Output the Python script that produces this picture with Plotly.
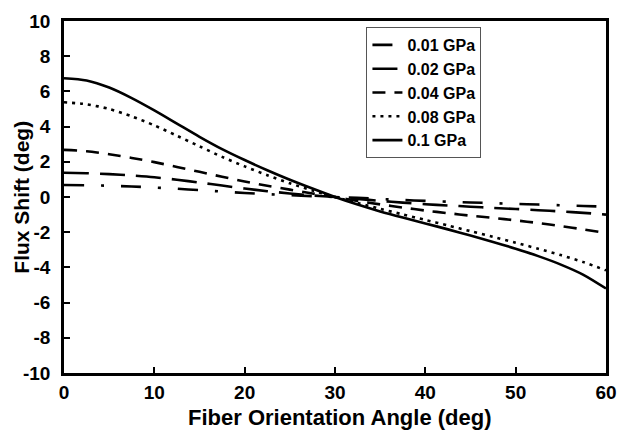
import plotly.graph_objects as go

angle = [0, 2.5, 5, 7.5, 10, 12.5, 15, 17.5, 20, 22.5, 25, 27.5, 30,
         32.5, 35, 37.5, 40, 42.5, 45, 47.5, 50, 52.5, 55, 57.5, 60]
s001 = [0.68, 0.67, 0.64, 0.60, 0.54, 0.47, 0.39, 0.31, 0.23, 0.16, 0.10, 0.05, 0.0,
        -0.05, -0.11, -0.17, -0.22, -0.27, -0.31, -0.35, -0.39, -0.43, -0.47, -0.51, -0.55]
s002 = [1.38, 1.35, 1.30, 1.22, 1.12, 0.98, 0.82, 0.65, 0.48, 0.33, 0.20, 0.09, 0.0,
        -0.11, -0.22, -0.32, -0.41, -0.48, -0.55, -0.62, -0.68, -0.75, -0.82, -0.90, -1.00]
s004 = [2.68, 2.60, 2.43, 2.22, 1.98, 1.71, 1.43, 1.15, 0.88, 0.64, 0.42, 0.20, 0.0,
        -0.22, -0.42, -0.60, -0.77, -0.92, -1.06, -1.19, -1.33, -1.48, -1.65, -1.84, -2.05]
s008 = [5.38, 5.27, 5.00, 4.58, 4.07, 3.48, 2.88, 2.28, 1.74, 1.24, 0.78, 0.37, 0.0,
        -0.34, -0.67, -0.99, -1.30, -1.62, -1.94, -2.26, -2.60, -2.94, -3.30, -3.70, -4.17]
s010 = [6.75, 6.62, 6.22, 5.62, 4.92, 4.17, 3.42, 2.72, 2.10, 1.52, 0.98, 0.48, 0.0,
        -0.43, -0.82, -1.17, -1.50, -1.84, -2.19, -2.55, -2.94, -3.36, -3.84, -4.42, -5.20]

yticks = [-10, -8, -6, -4, -2, 0, 2, 4, 6, 8, 10]
ylabels = ["-10", "-8", "-6", "-4", "-2", "0", "2", "4", "6", "8", "10"]
xticks = [0, 10, 20, 30, 40, 50, 60]

names = ["0.01 GPa", "0.02 GPa", "0.04 GPa", "0.08 GPa", "0.1 GPa"]
series = [s001, s002, s004, s008, s010]
dashes = ["20px,17px,3px,17px", "25px,11px", "13px,9px", "3px,5px", "solid"]

FAM = "Liberation Sans, Arial, sans-serif"

fig = go.Figure()
for n, s, d in zip(names, series, dashes):
    fig.add_trace(go.Scatter(x=angle, y=s, name=n, mode="lines",
                             line=dict(color="black", width=2.6, dash=d, shape="spline", smoothing=0.8)))

fig.update_layout(
    width=628, height=434,
    margin=dict(l=64, r=11, t=14, b=61),
    paper_bgcolor="white", plot_bgcolor="white",
    font=dict(family=FAM, color="black"),
    showlegend=True,
    legend=dict(x=0.558, y=0.983, xanchor="left", yanchor="top",
                bordercolor="#555", borderwidth=1, bgcolor="white",
                font=dict(family=FAM, size=16, color="black", weight="bold"),
                itemwidth=30),
    annotations=[
        dict(text="<b>Fiber Orientation Angle (deg)</b>", xref="paper", yref="paper",
             x=0.51, y=-0.125, xanchor="center", yanchor="middle", showarrow=False,
             font=dict(size=22, family=FAM, color="black")),
        dict(text="<b>Flux Shift (deg)</b>", xref="paper", yref="paper",
             x=-0.08, y=0.5, xanchor="center", yanchor="middle", showarrow=False,
             textangle=-90, font=dict(size=21, family=FAM, color="black")),
    ],
)
fig.update_xaxes(range=[0, 60], tickvals=xticks,
                 ticks="inside", ticklen=6, tickwidth=2, tickcolor="black",
                 showline=True, linewidth=2.5, linecolor="black", mirror=True,
                 showgrid=False, zeroline=False,
                 tickfont=dict(size=19, weight="bold", family=FAM))
fig.update_yaxes(range=[-10, 10], tickvals=yticks, ticktext=ylabels,
                 ticks="inside", ticklen=6, tickwidth=2, tickcolor="black",
                 showline=True, linewidth=2.5, linecolor="black", mirror=True,
                 showgrid=False, zeroline=False, ticklabelstandoff=7,
                 tickfont=dict(size=19, weight="bold", family=FAM))

fig.write_html("out.html")
